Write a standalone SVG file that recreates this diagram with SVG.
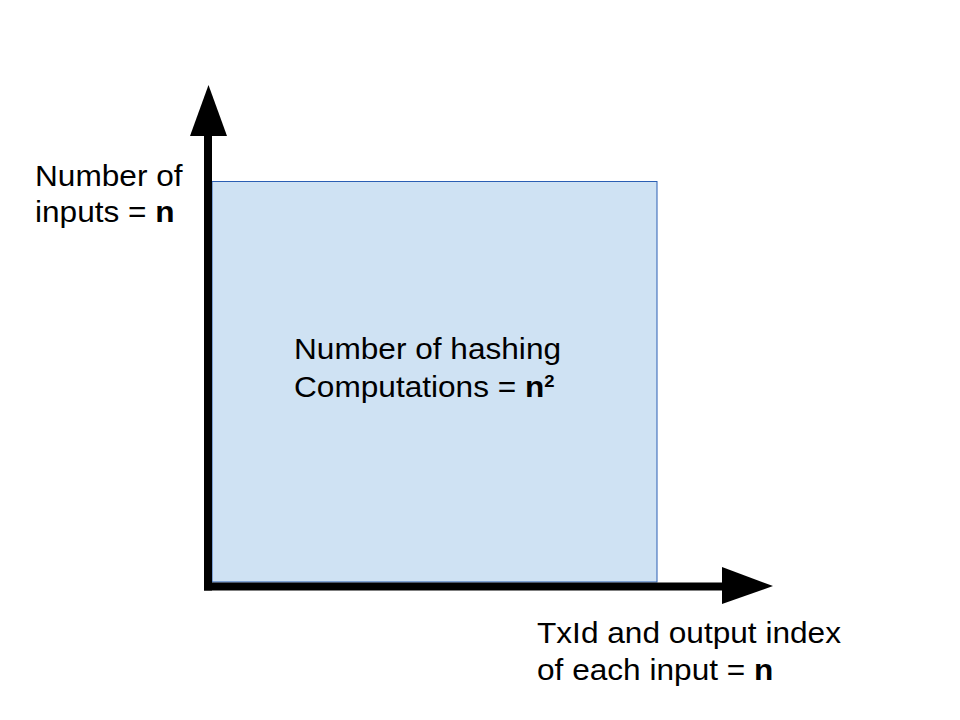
<svg xmlns="http://www.w3.org/2000/svg" width="960" height="720" viewBox="0 0 960 720">
  <style>
    .lbl { font-family: "Liberation Sans", Arial, sans-serif; font-size: 29px; fill: #000; }
    .b { font-weight: bold; }
    .sup { font-size: 17px; font-weight: bold; }
    .axis { stroke: #000; stroke-width: 8; fill: none; }
    .head { fill: #000; }
  </style>
  <rect width="960" height="720" fill="#ffffff"/>
  <g id="area">
    <rect x="212" y="181.5" width="445" height="400.5" fill="#cfe2f3" stroke="#2b5fb3" stroke-width="1"/>
    <g transform="translate(294,0) scale(1.09,1)">
      <text class="lbl" x="0" y="359">Number of hashing</text>
      <text class="lbl" x="0" y="397">Computations = <tspan class="b">n</tspan><tspan class="sup" dy="-10">2</tspan></text>
    </g>
  </g>
  <g id="connectors">
    <line class="axis" x1="208" y1="135" x2="208" y2="590.5"/>
    <polygon class="head" points="190,136 208.5,85 227,136"/>
    <line class="axis" x1="204" y1="586.5" x2="723" y2="586.5"/>
    <polygon class="head" points="722,567 773,586 722,604"/>
  </g>
  <g id="y-label" transform="translate(35,0) scale(1.09,1)">
    <text class="lbl" x="0" y="186">Number of</text>
    <text class="lbl" x="0" y="222">inputs = <tspan class="b">n</tspan></text>
  </g>
  <g id="x-label" transform="translate(537,0) scale(1.09,1)">
    <text class="lbl" x="0" y="643">TxId and output index</text>
    <text class="lbl" x="0" y="680">of each input = <tspan class="b">n</tspan></text>
  </g>
</svg>
